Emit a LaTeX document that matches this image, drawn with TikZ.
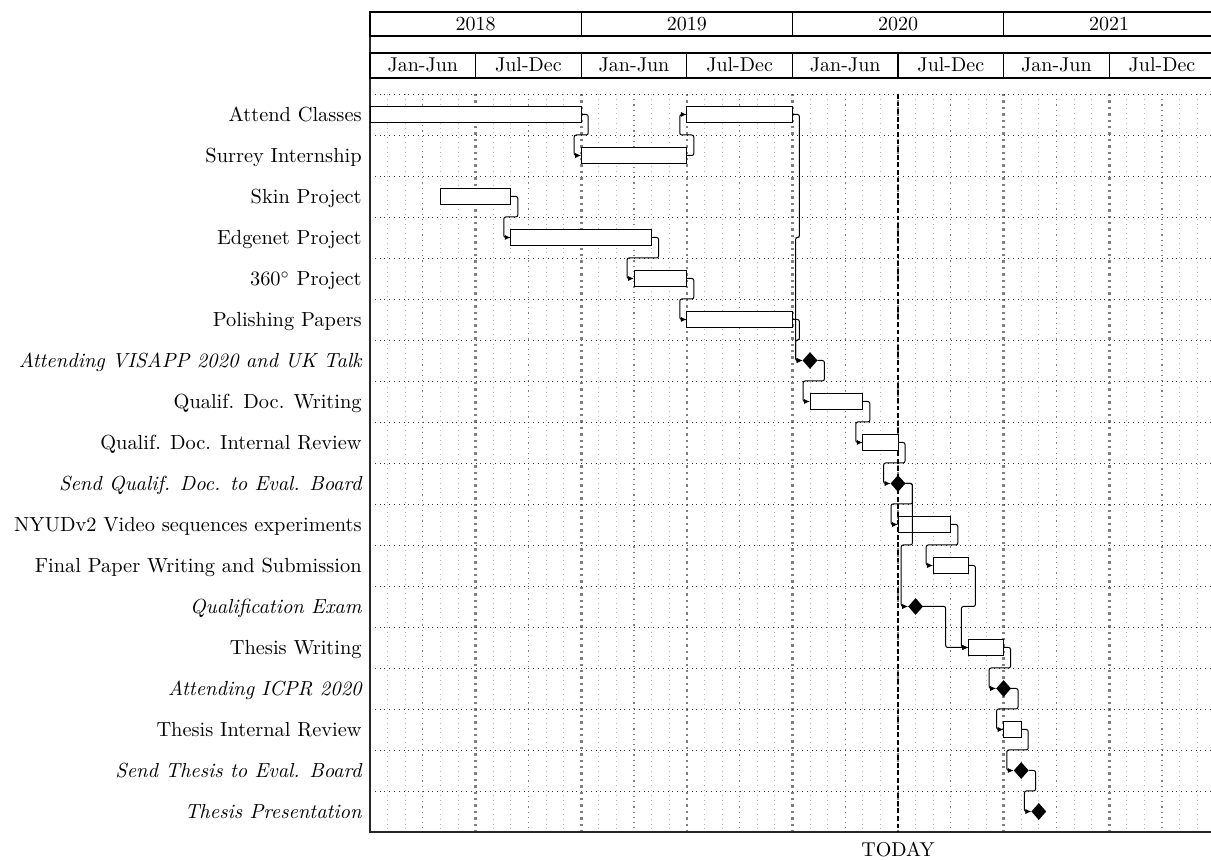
\documentclass[tikz,border=0pt]{standalone}
\usetikzlibrary{calc,shapes.geometric,arrows.meta}
% month m -> x position, row r -> y position of the row centre
\newcommand\MX[1]{370+17.6*(#1)}
\newcommand\RY[1]{73.5+41*(#1)}
% task bar: name, row, first month, month after the last one
\newcommand\gbar[4]{\node[bar, minimum width={8.8pt*(#4-#3)}] (#1) at ({\MX{#3}},{\RY{#2}}) {};}
% milestone: name, row, month
\newcommand\gmile[3]{\node[mile] (#1) at ({\MX{#3}},{\RY{#2}}) {};}
% finish-to-start link with a bulge
\newcommand\blink[2]{\draw[link] let \p1=(#1.east), \p2=(#2.west) in
  (\p1) -- (\x1+3.5pt,\y1) -- (\x1+3.5pt,{0.5*(\y1+\y2)}) -- (\x2-3.5pt,{0.5*(\y1+\y2)})
  -- (\x2-3.5pt,\y2) -- (\p2);}
% finish-to-start link, straight elbow
\newcommand\slink[2]{\draw[link] let \p1=(#1.east), \p2=(#2.west) in
  (\p1) -- ({0.5*(\x1+\x2)},\y1) -- ({0.5*(\x1+\x2)},\y2) -- (\p2);}
% row label: name, row, text
\newcommand\glabel[3]{\node[lbl] (#1) at (362,{\RY{#2}+6.9}) {#3};}
\begin{document}
\begin{tikzpicture}[x=0.5pt,y=-0.5pt,
  hdr/.style={draw, line width=0.6pt, fill=white, inner sep=0pt, outer sep=0pt,
    text height=6.5pt, text depth=0pt},
  yearcell/.style={hdr, minimum width=105.6pt, minimum height=12pt},
  halfcell/.style={hdr, minimum width=52.8pt, minimum height=12.5pt},
  bar/.style={draw, line width=0.5pt, fill=white, inner sep=0pt, outer sep=0pt,
    minimum height=8.3pt, anchor=west},
  mile/.style={diamond, fill=black, inner sep=0pt, outer sep=0pt,
    minimum width=7.4pt, minimum height=8.4pt},
  lbl/.style={anchor=base east, inner sep=0pt, font=\fontsize{10.2pt}{12pt}\selectfont},
  link/.style={line width=0.5pt, rounded corners=1pt, -{Latex[length=3pt,width=2.6pt]}},
  gridone/.style={gray!55, line width=0.4pt, dotted},
  gridthree/.style={gray, line width=0.6pt, dotted},
  gridsix/.style={gray, line width=1.3pt, dash pattern=on 1.2pt off 2pt},
  hgrid/.style={black!80, line width=0.4pt, dotted},
  todayrule/.style={black, line width=1.2pt, dash pattern=on 2.4pt off 1.4pt}
]
\useasboundingbox (0,0) rectangle (1211,860);

% vertical grid
\foreach \m in {1,2,4,5,7,8,10,11,13,14,16,17,19,20,22,23,25,26,28,29,31,32,34,35,37,38,40,41,43,44,46,47}
  \draw[gridone] ({\MX{\m}},94) -- ({\MX{\m}},832);
\foreach \m in {3,9,15,21,27,33,39,45}
  \draw[gridthree] ({\MX{\m}},94) -- ({\MX{\m}},832);
\foreach \m in {6,12,18,24,30,36,42}
  \draw[gridsix] ({\MX{\m}},94) -- ({\MX{\m}},832);
% horizontal grid
\foreach \k in {0,...,17}
  \draw[hgrid] (370,{94+41*\k}) -- (1215,{94+41*\k});

% canvas frame
\draw[line width=0.7pt, black!85] (370,12) -- (370,832) -- (1215,832);

% calendar header
\node[yearcell] (y2018) at ({\MX{6}},24) {2018};
\node[yearcell] (y2019) at ({\MX{18}},24) {2019};
\node[yearcell] (y2020) at ({\MX{30}},24) {2020};
\node[yearcell] (y2021) at ({\MX{42}},24) {2021};
\node[halfcell] (h1) at ({\MX{3}},65.5) {Jan-Jun};
\node[halfcell] (h2) at ({\MX{9}},65.5) {Jul-Dec};
\node[halfcell] (h3) at ({\MX{15}},65.5) {Jan-Jun};
\node[halfcell] (h4) at ({\MX{21}},65.5) {Jul-Dec};
\node[halfcell] (h5) at ({\MX{27}},65.5) {Jan-Jun};
\node[halfcell] (h6) at ({\MX{33}},65.5) {Jul-Dec};
\node[halfcell] (h7) at ({\MX{39}},65.5) {Jan-Jun};
\node[halfcell] (h8) at ({\MX{45}},65.5) {Jul-Dec};

% today marker
\coordinate (ttop) at ({\MX{30}},94);
\coordinate (tbot) at ({\MX{30}},832);
\draw[todayrule] (ttop) -- (tbot);
\node[anchor=north, inner sep=0pt] (today) at ({\MX{30}},841.5) {TODAY};

% bars
\gbar{ac1}{1}{0}{12}
\gbar{ac2}{1}{18}{24}
\gbar{surrey}{2}{12}{18}
\gbar{skin}{3}{4}{8}
\gbar{edge}{4}{8}{16}
\gbar{pano}{5}{15}{18}
\gbar{polish}{6}{18}{24}
\gbar{qdw}{8}{25}{28}
\gbar{qdr}{9}{28}{30}
\gbar{nyud}{11}{30}{33}
\gbar{fpw}{12}{32}{34}
\gbar{tw}{14}{34}{36}
\gbar{tir}{16}{36}{37}

% milestones
\gmile{visapp}{7}{25}
\gmile{sendq}{10}{30}
\gmile{qexam}{13}{31}
\gmile{icpr}{15}{36}
\gmile{sendt}{17}{37}
\gmile{pres}{18}{38}

% links
\blink{ac1}{surrey}
\blink{surrey}{ac2}
\blink{skin}{edge}
\blink{edge}{pano}
\blink{pano}{polish}
\blink{ac2}{visapp}
\blink{polish}{visapp}
\blink{visapp}{qdw}
\blink{qdw}{qdr}
\blink{qdr}{sendq}
\blink{sendq}{nyud}
\blink{sendq}{qexam}
\blink{nyud}{fpw}
\blink{fpw}{tw}
\slink{qexam}{tw}
\blink{tw}{icpr}
\blink{icpr}{tir}
\blink{tir}{sendt}
\blink{sendt}{pres}

% row labels
\glabel{l1}{1}{Attend Classes}
\glabel{l2}{2}{Surrey Internship}
\glabel{l3}{3}{Skin Project}
\glabel{l4}{4}{Edgenet Project}
\glabel{l5}{5}{360$^\circ$ Project}
\glabel{l6}{6}{Polishing Papers}
\glabel{l7}{7}{\itshape Attending VISAPP 2020 and UK Talk}
\glabel{l8}{8}{Qualif. Doc. Writing}
\glabel{l9}{9}{Qualif. Doc. Internal Review}
\glabel{l10}{10}{\itshape Send Qualif. Doc. to Eval. Board}
\glabel{l11}{11}{NYUDv2 Video sequences experiments}
\glabel{l12}{12}{Final Paper Writing and Submission}
\glabel{l13}{13}{\itshape Qualification Exam}
\glabel{l14}{14}{Thesis Writing}
\glabel{l15}{15}{\itshape Attending ICPR 2020}
\glabel{l16}{16}{Thesis Internal Review}
\glabel{l17}{17}{\itshape Send Thesis to Eval. Board}
\glabel{l18}{18}{\itshape Thesis Presentation}
\end{tikzpicture}
\end{document}
